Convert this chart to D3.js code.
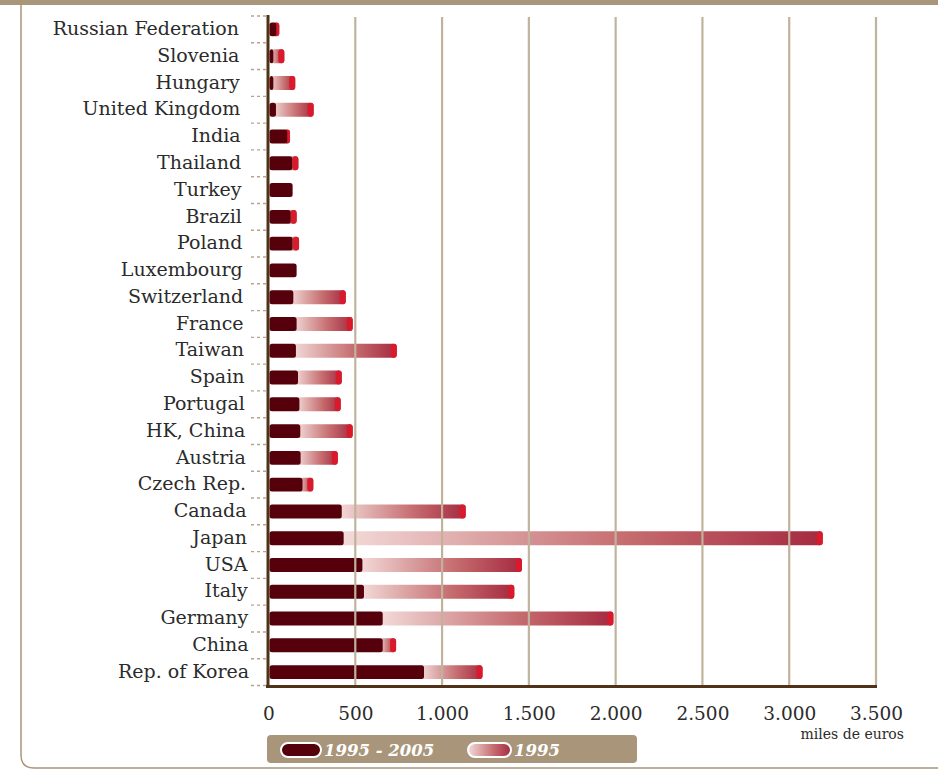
<!DOCTYPE html>
<html>
<head>
<meta charset="utf-8">
<script src="https://cdn.jsdelivr.net/npm/d3@7"></script>
<style>
  html, body { margin: 0; padding: 0; background: #ffffff; }
  svg { display: block; }
</style>
</head>
<body>
<svg id="chart" width="938" height="769"></svg>
<script>
// ---- data ----
const categories = ["Russian Federation","Slovenia","Hungary","United Kingdom","India","Thailand","Turkey","Brazil","Poland","Luxembourg","Switzerland","France","Taiwan","Spain","Portugal","HK, China","Austria","Czech Rep.","Canada","Japan","USA","Italy","Germany","China","Rep. of Korea"];
const values19952005 = [45,28,28,43,108,137,139,128,139,162,143,162,158,170,178,183,185,196,422,433,541,550,658,658,896];
const values1995 = [17,63,126,217,16,35,0,34,37,0,302,323,581,252,238,302,214,62,714,2760,919,866,1329,77,337];
const tickValues = [0,500,1000,1500,2000,2500,3000,3500];
const tickLabels = ["0","500","1.000","1.500","2.000","2.500","3.000","3.500"];
const legendLabels = ["1995 - 2005","1995"];
const unitLabel = "miles de euros";

// ---- styles ----
const TAN = "#a8957a";
const DARK = "#55000b";
const CAP = "#d91a2c";
const AXIS = "#4f3218";
const GRID = "#c0b39d";
const TEXT = "#2b2b2b";
const FONT = "'DejaVu Serif', Georgia, serif";

const svg = d3.select("#chart");
const defs = svg.append("defs");
const grad = defs.append("linearGradient").attr("id","g1995")
  .attr("x1","0").attr("x2","1").attr("y1","0").attr("y2","0");
[[0,"#f3dcda"],[0.3,"#dba3a3"],[0.6,"#c56b6e"],[1,"#a52a40"]].forEach(([o,c]) =>
  grad.append("stop").attr("offset",o).attr("stop-color",c));

// frame
svg.append("rect").attr("x",0).attr("y",0).attr("width",938).attr("height",5).attr("fill",TAN);
svg.append("path").attr("d","M21,5 V755 Q21,768 34,768 H938")
  .attr("fill","none").attr("stroke",TAN).attr("stroke-width",1.5);

// scales
const x = d3.scaleLinear().domain([0,3500]).range([268.5,876]);
const y = d3.scaleBand().domain(categories).range([16,685.5]).paddingInner(0.48).paddingOuter(0.24);

// dashed category ticks on the left
const step = y.step();
const boundaries = d3.range(categories.length + 1).map(i => 16 + i*step);
svg.append("g").selectAll("line").data(boundaries).join("line")
  .attr("x1",251).attr("x2",266).attr("y1",d=>d).attr("y2",d=>d)
  .attr("stroke","#b5a68a").attr("stroke-width",1.4).attr("stroke-dasharray","3,3");

// bars
const rows = categories.map((c,i) => ({c, i, a: values19952005[i], b: values1995[i]}));
const gBars = svg.append("g");
const bh = y.bandwidth();
// gradient segment (1995)
gBars.selectAll("rect.seg2").data(rows.filter(d=>d.b>0)).join("rect")
  .attr("class","seg2")
  .attr("x", d => x(d.a) - 4)
  .attr("y", d => y(d.c))
  .attr("width", d => x(d.a + d.b) - x(d.a) + 4)
  .attr("height", bh)
  .attr("rx",3)
  .attr("fill","url(#g1995)");
// red cap at end
gBars.selectAll("rect.cap").data(rows.filter(d=>d.b>0)).join("rect")
  .attr("class","cap")
  .attr("x", d => x(d.a + d.b) - Math.min(6, x(d.a + d.b) - x(d.a) + 3))
  .attr("y", d => y(d.c))
  .attr("width", d => Math.min(6, x(d.a + d.b) - x(d.a) + 3))
  .attr("height", bh)
  .attr("rx",3)
  .attr("fill",CAP);
// dark segment (1995-2005)
gBars.selectAll("rect.seg1").data(rows).join("rect")
  .attr("class","seg1")
  .attr("x", x(0) + 1)
  .attr("y", d => y(d.c))
  .attr("width", d => Math.max(0, x(d.a) - x(0) - 1))
  .attr("height", bh)
  .attr("rx",2.5)
  .attr("fill",DARK);

// gridlines (drawn over bars)
svg.append("g").selectAll("line").data(tickValues.slice(1)).join("line")
  .attr("x1",d=>x(d)).attr("x2",d=>x(d)).attr("y1",17).attr("y2",686)
  .attr("stroke",GRID).attr("stroke-width",2.2);

// axes lines
svg.append("line").attr("x1",268).attr("x2",268).attr("y1",15).attr("y2",687)
  .attr("stroke",AXIS).attr("stroke-width",3);
svg.append("line").attr("x1",266).attr("x2",877).attr("y1",686.5).attr("y2",686.5)
  .attr("stroke",AXIS).attr("stroke-width",3);

// x tick labels via axis
const xAxis = d3.axisBottom(x).tickValues(tickValues).tickSize(0)
  .tickFormat((d,i) => tickLabels[i]);
const gx = svg.append("g").attr("transform","translate(0,700)").call(xAxis);
gx.select(".domain").remove();
gx.selectAll("text").attr("font-family",FONT).attr("font-size",18.5).attr("fill",TEXT).attr("dy","0.93em");

svg.append("text").attr("x",904).attr("y",739).attr("text-anchor","end")
  .attr("font-family",FONT).attr("font-size",14).attr("fill",TEXT).text(unitLabel);

// category labels
svg.append("g").selectAll("text").data(rows).join("text")
  .attr("x", d => 239 + d.i*0.42)
  .attr("y", d => y(d.c) + bh/2)
  .attr("dy","0.3em")
  .attr("text-anchor","end")
  .attr("font-family",FONT).attr("font-size",19).attr("fill",TEXT)
  .text(d => d.c);

// legend
const lg = svg.append("g");
lg.append("rect").attr("x",267).attr("y",735).attr("width",370).attr("height",28).attr("rx",4).attr("fill",TAN);
lg.append("rect").attr("x",281).attr("y",743).attr("width",40).attr("height",14).attr("rx",7)
  .attr("fill",DARK).attr("stroke","#ffffff").attr("stroke-width",2);
lg.append("rect").attr("x",468).attr("y",743).attr("width",43).attr("height",14).attr("rx",7)
  .attr("fill","url(#g1995)").attr("stroke","#ffffff").attr("stroke-width",2);
lg.append("text").attr("x",324).attr("y",756).attr("font-family",FONT).attr("font-size",16.5)
  .attr("font-style","italic").attr("font-weight","bold").attr("fill","#ffffff").text(legendLabels[0]);
lg.append("text").attr("x",514).attr("y",756).attr("font-family",FONT).attr("font-size",16.5)
  .attr("font-style","italic").attr("font-weight","bold").attr("fill","#ffffff").text(legendLabels[1]);
</script>
</body>
</html>
